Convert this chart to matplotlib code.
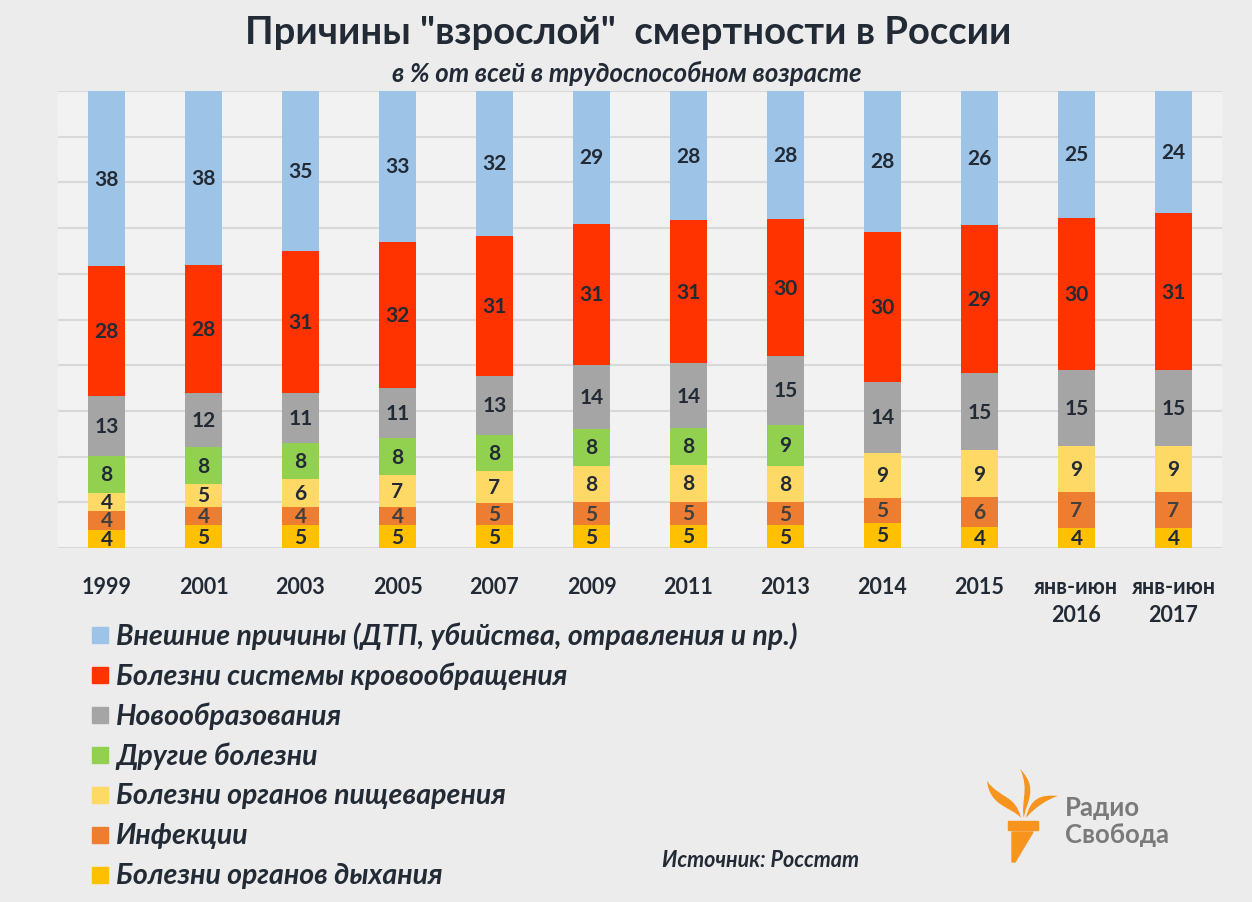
import matplotlib.pyplot as plt
import numpy as np
from matplotlib.patches import Rectangle, PathPatch, Polygon
from matplotlib.path import Path

plt.rcParams['font.family'] = ['Lato', 'Open Sans', 'DejaVu Sans']

years = ['1999', '2001', '2003', '2005', '2007', '2009', '2011', '2013', '2014', '2015',
         'янв-июн\n2016', 'янв-июн\n2017']

# bottom to top
respiratory = [4, 5, 5, 5, 5, 5, 5, 5, 5, 4, 4, 4]
infections = [4, 4, 4, 4, 5, 5, 5, 5, 5, 6, 7, 7]
digestive = [4, 5, 6, 7, 7, 8, 8, 8, 9, 9, 9, 9]
other = [8, 8, 8, 8, 8, 8, 8, 9, 0, 0, 0, 0]
neoplasms = [13, 12, 11, 11, 13, 14, 14, 15, 14, 15, 15, 15]
circulatory = [28, 28, 31, 32, 31, 31, 31, 30, 30, 29, 30, 31]
external = [38, 38, 35, 33, 32, 29, 28, 28, 28, 26, 25, 24]

names = ['Болезни органов дыхания', 'Инфекции', 'Болезни органов пищеварения',
         'Другие болезни', 'Новообразования', 'Болезни системы кровообращения',
         'Внешние причины (ДТП, убийства, отравления и пр.)']
colors = ['#ffc000', '#ed7d31', '#ffd966', '#92d050', '#a5a5a5', '#ff3300', '#9dc3e6']

series = np.array([respiratory, infections, digestive, other, neoplasms, circulatory, external], float)
shares = series / series.sum(axis=0) * 100  # 100% stacked

W, H = 1252, 903
fig = plt.figure(figsize=(W / 100, H / 100), dpi=100, facecolor='#ececec')
ax = fig.add_axes([58 / W, 1 - 549 / H, (1222 - 58) / W, (549 - 92) / H])
ax.set_facecolor('#f2f2f2')

x = np.arange(len(years))
bottom = np.zeros(len(years))
for i in range(len(series)):
    ax.bar(x, shares[i], 0.39, bottom=bottom, color=colors[i], zorder=3)
    for j in range(len(years)):
        if series[i, j] > 0:
            ax.text(x[j], bottom[j] + shares[i, j] / 2, '%d' % series[i, j], ha='center', va='center',
                    fontsize=15, fontweight='bold',
                    color='#404040' if i == 1 else '#222a35', zorder=4)
    bottom += shares[i]

ax.set_xlim(-0.5, len(years) - 0.5)
ax.set_ylim(0, 100)
ax.set_yticks(np.arange(0, 101, 10))
ax.yaxis.grid(True, color='#d9d9d9', linewidth=1.5, zorder=0)
ax.tick_params(axis='y', left=False, labelleft=False)
ax.tick_params(axis='x', length=0, pad=20)
ax.set_xticks(x)
ax.set_xticklabels(years, fontsize=15.5, fontweight='bold', color='#222a35', linespacing=1.45, va='top')
for s in ax.spines.values():
    s.set_visible(False)

# overlay in pixel coords for titles, legend and logo
ov = fig.add_axes([0, 0, 1, 1], facecolor='none')
ov.set_xlim(0, W)
ov.set_ylim(H, 0)
ov.axis('off')

ov.text(628, 33, 'Причины "взрослой"  смертности в России', ha='center', va='center',
        fontsize=27.5, fontweight='bold', color='#222a35')
ov.text(627, 73, 'в % от всей в трудоспособном возрасте', ha='center', va='center',
        fontsize=18.5, fontweight='bold', style='italic', color='#222a35')

for k, i in enumerate(range(len(names) - 1, -1, -1)):
    yy = 636 + 40 * k
    ov.add_patch(Rectangle((92, yy - 8), 16, 16, color=colors[i]))
    ov.text(116, yy, names[i], ha='left', va='center', fontsize=20.5, fontweight='bold',
            style='italic', color='#222a35')

ov.text(760, 861, 'Источник: Росстат', ha='center', va='center', fontsize=15.5,
        fontweight='bold', style='italic', color='#222a35')

# logo
orange = '#f7941d'
ov.add_patch(Polygon([(1008, 822), (1038, 822), (1038, 831), (1008, 831)], color=orange))
ov.add_patch(Polygon([(1012, 833), (1033, 833), (1015, 863), (1012, 863)], color=orange))


def leaf(p0, c1, c2, p1, c3, c4):
    verts = [p0, c1, c2, p1, c3, c4, p0, p0]
    codes = [Path.MOVETO, Path.CURVE4, Path.CURVE4, Path.CURVE4,
             Path.CURVE4, Path.CURVE4, Path.CURVE4, Path.CLOSEPOLY]
    ov.add_patch(PathPatch(Path(verts, codes), color=orange, lw=0))


leaf((987, 782), (1000, 800), (1015, 795), (1021, 819), (1012, 808), (990, 808))
leaf((1020, 770), (1040, 790), (1025, 805), (1024, 819), (1020, 805), (1030, 790))
leaf((1058, 797), (1040, 795), (1030, 800), (1026, 819), (1035, 808), (1048, 800))

ov.text(1065, 808, 'Радио', ha='left', va='center', fontsize=18.5, fontweight='bold', color='#7a7a7a')
ov.text(1065, 835, 'Свобода', ha='left', va='center', fontsize=18.5, fontweight='bold', color='#7a7a7a')

fig.savefig('out.png', dpi=100, facecolor=fig.get_facecolor())
